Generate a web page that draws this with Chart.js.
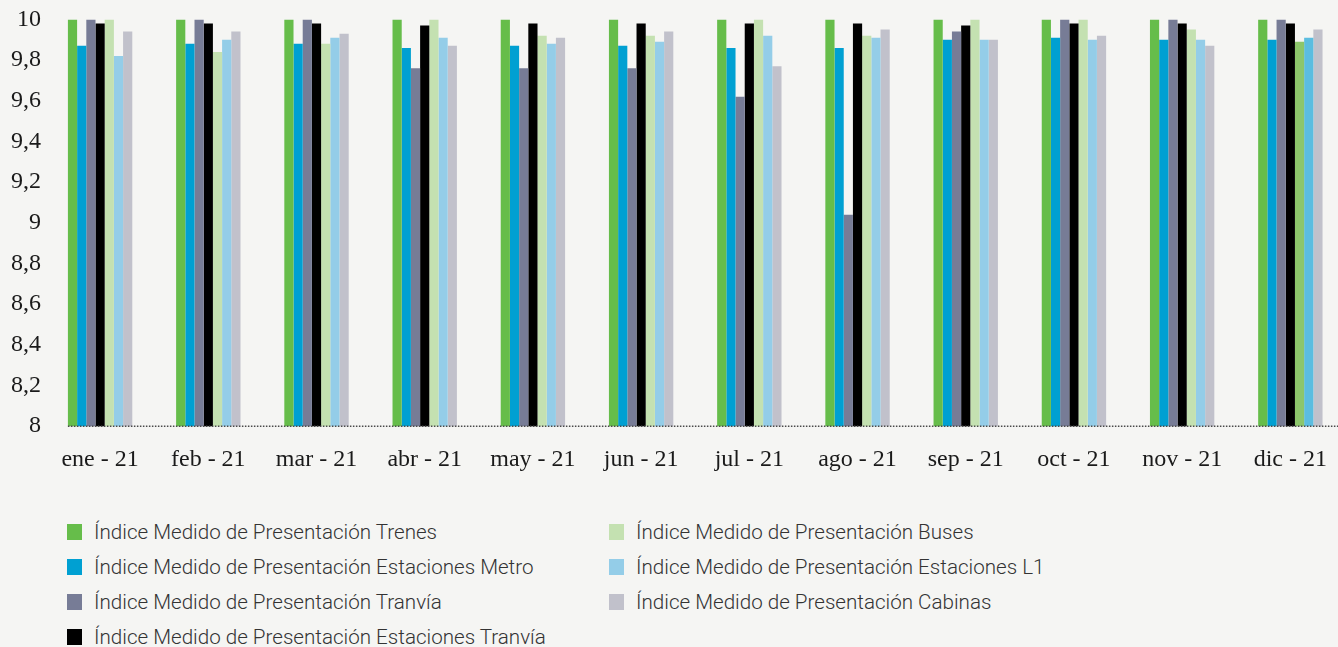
<!DOCTYPE html>
<html lang="es">
<head>
<meta charset="utf-8">
<title>Índice Medido de Presentación 2021</title>
<script src="https://cdn.jsdelivr.net/npm/chart.js@4/dist/chart.umd.min.js"></script>
<style>
  html, body { margin: 0; padding: 0; background: #f5f5f3; overflow: hidden; }
  #wrap { position: relative; width: 1346px; height: 493px; }
  #legend {
    display: grid;
    grid-template-columns: 542px 600px;
    grid-auto-flow: column;
    grid-template-rows: repeat(4, 35px);
    margin: 21px 0 0 67px;
    font-family: Roboto, "Noto Sans", sans-serif;
    font-weight: 300;
    font-size: 20.6px;
    color: #333;
  }
  .item { display: flex; align-items: center; height: 35px; }
  .box { width: 15px; height: 16px; margin-right: 12px; flex: none; }
</style>
</head>
<body>
<div id="wrap"><canvas id="barChart"></canvas></div>
<div id="legend"></div>

<script>
// Datos
const meses = ['ene - 21', 'feb - 21', 'mar - 21', 'abr - 21', 'may - 21', 'jun - 21',
               'jul - 21', 'ago - 21', 'sep - 21', 'oct - 21', 'nov - 21', 'dic - 21'];

const trenes            = [10, 10, 10, 10, 10, 10, 10, 10, 10, 10, 10, 10];
const estacionesMetro   = [9.87, 9.88, 9.88, 9.86, 9.87, 9.87, 9.86, 9.86, 9.90, 9.91, 9.90, 9.90];
const tranvia           = [10, 10, 10, 9.76, 9.76, 9.76, 9.62, 9.04, 9.94, 10, 10, 10];
const estacionesTranvia = [9.98, 9.98, 9.98, 9.97, 9.98, 9.98, 9.98, 9.98, 9.97, 9.98, 9.98, 9.98];
const buses             = [10, 9.84, 9.88, 10, 9.92, 9.92, 10, 9.92, 10, 10, 9.95, 9.89];
const estacionesL1      = [9.82, 9.90, 9.91, 9.91, 9.88, 9.89, 9.92, 9.91, 9.90, 9.90, 9.90, 9.91];
const cabinas           = [9.94, 9.94, 9.93, 9.87, 9.91, 9.94, 9.77, 9.95, 9.90, 9.92, 9.87, 9.95];

const series = [
    { label: 'Índice Medido de Presentación Trenes', data: trenes, color: '#66bd4a' },
    { label: 'Índice Medido de Presentación Estaciones Metro', data: estacionesMetro, color: '#00a0d2' },
    { label: 'Índice Medido de Presentación Tranvía', data: tranvia, color: '#777c96' },
    { label: 'Índice Medido de Presentación Estaciones Tranvía', data: estacionesTranvia, color: '#000000' },
    { label: 'Índice Medido de Presentación Buses', data: buses, color: '#c4e1b1', last: '#8cc66b' },
    { label: 'Índice Medido de Presentación Estaciones L1', data: estacionesL1, color: '#94cde8', last: '#5bbde0' },
    { label: 'Índice Medido de Presentación Cabinas', data: cabinas, color: '#c1c1cb' }
];

// Línea punteada en la base (empieza en la primera barra)
const baseLine = {
    id: 'baseLine',
    afterDatasetsDraw(chart) {
        const first = chart.getDatasetMeta(0).data[0];
        const y = chart.scales.y.getPixelForValue(8);
        const ctx = chart.ctx;
        ctx.save();
        ctx.strokeStyle = '#4a4a4a';
        ctx.lineWidth = 1.5;
        ctx.setLineDash([1.5, 1.5]);
        ctx.beginPath();
        ctx.moveTo(first.x - first.width / 2, y);
        ctx.lineTo(chart.width, y);
        ctx.stroke();
        ctx.restore();
    }
};

const chart = new Chart(document.getElementById('barChart'), {
    type: 'bar',
    data: {
        labels: meses,
        datasets: series.map(s => ({
            label: s.label,
            data: s.data,
            backgroundColor: s.last ? s.data.map((v, i) => i === s.data.length - 1 ? s.last : s.color) : s.color,
            borderWidth: 0,
            barPercentage: 1,
            categoryPercentage: 0.595
        }))
    },
    options: {
        responsive: true,
        maintainAspectRatio: false,
        animation: false,
        layout: { padding: { left: 6, right: 0, top: 0, bottom: 0 } },
        plugins: {
            legend: { display: false },
            tooltip: { enabled: false }
        },
        scales: {
            y: {
                min: 8,
                max: 10,
                grid: { display: false, drawTicks: false },
                border: { display: false },
                ticks: {
                    stepSize: 0.2,
                    padding: 5,
                    color: '#1a1a1a',
                    font: { family: '"Liberation Serif", "DejaVu Serif", serif', size: 24 },
                    callback: v => String(Number(v.toFixed(1))).replace('.', ',')
                }
            },
            x: {
                grid: { display: false, drawTicks: false },
                border: { display: false },
                ticks: {
                    padding: 19,
                    color: '#1a1a1a',
                    maxRotation: 0,
                    font: { family: '"Liberation Serif", "DejaVu Serif", serif', size: 24 }
                }
            }
        }
    },
    plugins: [baseLine]
});

// Leyenda HTML en dos columnas
const legend = document.getElementById('legend');
series.forEach(s => {
    const item = document.createElement('div');
    item.className = 'item';
    item.innerHTML = '<span class="box" style="background:' + s.color + '"></span><span>' + s.label + '</span>';
    legend.appendChild(item);
});
</script>
</body>
</html>
